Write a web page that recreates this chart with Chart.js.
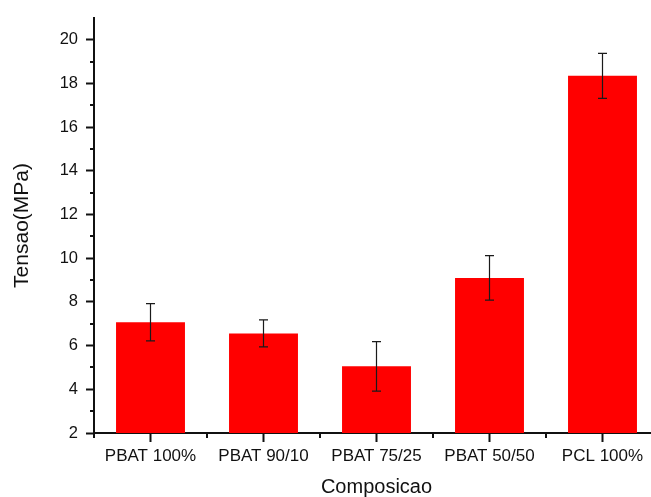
<!DOCTYPE html>
<html>
<head>
<meta charset="utf-8">
<script src="https://cdn.jsdelivr.net/npm/chart.js@4"></script>
<style>
  html, body { margin: 0; padding: 0; background: #fff; overflow: hidden; }
  canvas { display: block; }
</style>
</head>
<body>
<canvas id="tensaoChart" width="660" height="497"></canvas>
<script>
// composições ensaiadas e tensão média (MPa) com desvio padrão
const composicoes = ['PBAT 100%', 'PBAT 90/10', 'PBAT 75/25', 'PBAT 50/50', 'PCL 100%'];
const tensao = [7.07, 6.56, 5.05, 9.1, 18.35];
const desvio = [0.85, 0.62, 1.13, 1.02, 1.03];
const yMenores = [3, 5, 7, 9, 11, 13, 15, 17, 19];

const fonte = "'Liberation Sans', Arial, sans-serif";

// barras de erro e marcas menores dos eixos
const extras = {
    id: 'extras',
    afterDatasetsDraw(chart) {
        const ctx = chart.ctx;
        const y = chart.scales.y;
        const meta = chart.getDatasetMeta(0);

        ctx.save();
        ctx.strokeStyle = '#1a1a1a';
        ctx.lineWidth = 1.2;
        meta.data.forEach((bar, i) => {
            const cx = bar.x;
            const top = y.getPixelForValue(tensao[i] + desvio[i]);
            const bot = y.getPixelForValue(tensao[i] - desvio[i]);
            ctx.beginPath();
            ctx.moveTo(cx, top);
            ctx.lineTo(cx, bot);
            ctx.moveTo(cx - 4.5, top);
            ctx.lineTo(cx + 4.5, top);
            ctx.moveTo(cx - 4.5, bot);
            ctx.lineTo(cx + 4.5, bot);
            ctx.stroke();
        });
        ctx.restore();
    },
    afterDraw(chart) {
        const ctx = chart.ctx;
        const x = chart.scales.x;
        const y = chart.scales.y;
        const area = chart.chartArea;

        ctx.save();
        ctx.strokeStyle = '#111';
        ctx.lineWidth = 2;
        ctx.beginPath();
        yMenores.forEach(v => {
            const py = Math.round(y.getPixelForValue(v));
            ctx.moveTo(area.left - 4, py);
            ctx.lineTo(area.left, py);
        });
        for (let i = 0; i <= composicoes.length; i++) {
            const px = Math.round((x.getPixelForValue(i - 1) + x.getPixelForValue(i)) / 2);
            ctx.moveTo(px, area.bottom);
            ctx.lineTo(px, area.bottom + 5);
        }
        ctx.stroke();
        ctx.restore();
    }
};

const ctx = document.getElementById('tensaoChart').getContext('2d');

new Chart(ctx, {
    type: 'bar',
    data: {
        labels: composicoes,
        datasets: [{
            label: 'Tensao',
            data: tensao,
            backgroundColor: 'rgb(255, 0, 0)',
            borderWidth: 0,
            barPercentage: 0.61,
            categoryPercentage: 1
        }]
    },
    options: {
        responsive: false,
        animation: false,
        layout: {
            padding: { top: 15, right: 1, left: 0, bottom: 0 }
        },
        scales: {
            x: {
                offset: true,
                afterFit(scale) { scale.height = 64; },
                grid: {
                    offset: false,
                    drawOnChartArea: false,
                    tickLength: 9,
                    tickColor: '#111',
                    tickWidth: 2
                },
                border: { display: true, color: '#111', width: 2 },
                ticks: {
                    color: '#111',
                    padding: 4,
                    font: { family: fonte, size: 17 }
                },
                title: {
                    display: true,
                    text: 'Composicao',
                    color: '#111',
                    padding: 0,
                    font: { family: fonte, size: 20, lineHeight: 1 }
                }
            },
            y: {
                min: 2,
                max: 21,
                afterFit(scale) { scale.width = 94; },
                grid: {
                    drawOnChartArea: false,
                    tickLength: 8,
                    tickColor: '#111',
                    tickWidth: 2
                },
                border: { display: true, color: '#111', width: 2 },
                ticks: {
                    stepSize: 2,
                    includeBounds: false,
                    color: '#111',
                    padding: 8,
                    font: { family: fonte, size: 16.5 }
                },
                title: {
                    display: true,
                    text: 'Tensao(MPa)',
                    color: '#111',
                    padding: { top: 12, bottom: 0 },
                    font: { family: fonte, size: 21, lineHeight: 1 }
                }
            }
        },
        plugins: {
            legend: { display: false },
            tooltip: { enabled: false }
        }
    },
    plugins: [extras]
});
</script>
</body>
</html>
